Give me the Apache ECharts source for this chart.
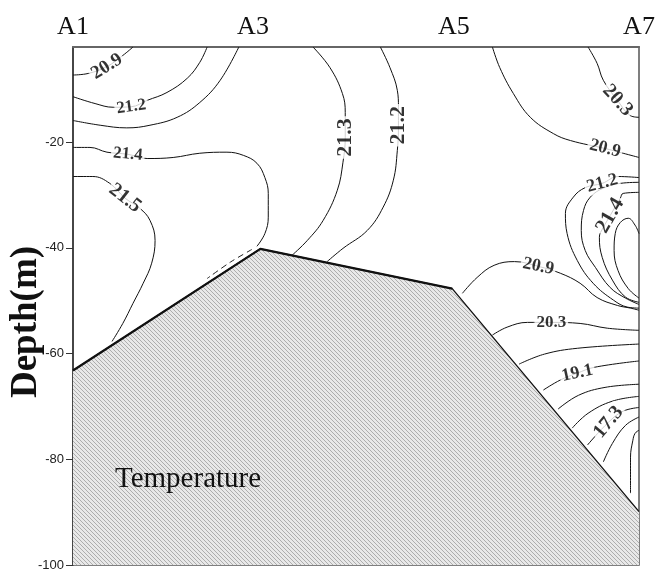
<!DOCTYPE html>
<html>
<head>
<meta charset="utf-8">
<script src="https://cdn.jsdelivr.net/npm/echarts@6/dist/echarts.min.js"></script>
<style>html,body{margin:0;padding:0;background:#fff}#chart{width:657px;height:571px}</style>
</head>
<body>
<div id="chart"></div>
<script>
// ---- data ----
const stationNames = ['A1', 'A3', 'A5', 'A7'];
const stationPos = [0, 31.8, 67.3, 100];
const depthTicks = [-20, -40, -60, -80, -100];
const seabed = [[0, -63.2], [33.1, -40.2], [67.0, -47.7], [100, -89.9]];

const c209_top = [[0,-7.3],[2.7,-7.0],[6.0,-5.7],[8.8,-3.6],[10.6,-2.0]];
const c212_left = [[0,-11.4],[3.9,-12.7],[7.1,-13.4],[10.3,-13.3],[13.1,-12.1],[16.6,-10.6],[20.2,-7.9],[22.4,-4.9],[23.7,-2.0]];
const c213_left = [[0,-15.9],[4.8,-16.8],[9.5,-17.3],[13.6,-16.8],[18.4,-15.3],[22.4,-12.5],[26.0,-8.3],[29.3,-2.0]];
const c214_left = [[0,-21.0],[3.0,-21.0],[6.0,-21.9],[9.7,-22.3],[13.1,-23.1],[17.7,-22.9],[22.4,-22.1],[27.2,-21.9],[30.1,-22.5],[32.5,-24.0],[33.9,-26.7],[34.5,-29.7],[34.5,-34.2],[33.9,-37.3],[32.5,-39.7]];
const c214_hidden = [[31.6,-40.3],[27.8,-42.7],[23.7,-45.8]];
const c215_left = [[0,-26.5],[3.5,-26.5],[6.5,-27.8],[9.2,-30.6],[11.8,-32.5],[13.6,-34.8],[14.5,-38.6],[13.9,-42.9],[12.4,-46.7],[10.6,-50.5],[8.8,-54.3],[6.9,-57.7]];
const c213_mid = [[42.4,-2.0],[45.4,-5.9],[47.6,-10.8],[48.1,-14.4],[48.1,-19.1],[47.7,-23.8],[46.7,-29.1],[44.2,-34.8],[41.4,-38.6],[38.7,-41.4]];
const c212_mid = [[54.3,-2.0],[56.0,-5.9],[57.3,-10.2],[57.5,-13.4],[57.5,-16.8],[57.3,-21.6],[56.6,-27.2],[54.8,-32.3],[52.0,-36.7],[47.7,-40.1],[44.9,-42.6]];
const c209_right = [[74.1,-2.0],[75.4,-5.9],[77.8,-10.8],[80.8,-15.3],[84.9,-18.4],[87.9,-19.7],[94.0,-21.2],[97.2,-22.1],[100,-22.9]];
const c203_right = [[91.0,-2.0],[92.6,-5.1],[93.7,-8.3],[96.2,-12.1],[98.5,-15.0],[100,-15.3]];
const c212_loop = [[100,-26.7],[96.3,-26.5],[93.5,-27.8],[90.5,-28.6],[88.4,-30.4],[87.0,-33.5],[87.3,-37.3],[89.1,-42.4],[91.9,-46.7],[95.5,-49.9],[97.9,-51.2],[100,-51.4]];
const c213_loop = [[100,-27.6],[96.7,-27.8],[93.7,-28.7],[91.4,-30.4],[90.2,-32.9],[89.8,-36.7],[90.5,-40.5],[92.3,-43.7],[94.9,-47.5],[97.6,-49.5],[100,-50.7]];
const c214_loop = [[100,-29.5],[97.2,-29.7],[96.7,-30.6],[94.9,-33.9],[93.2,-37.1],[93.0,-38.0],[93.5,-41.8],[95.3,-46.1],[97.6,-49.3],[100,-50.3]];
const c215_loop = [[100,-37.3],[99.3,-35.7],[98.1,-34.4],[96.7,-35.2],[95.8,-37.3],[95.6,-40.5],[96.3,-44.3],[98.1,-47.7],[100,-49.5]];
const c209_low = [[68.8,-48.6],[71.4,-45.6],[74.4,-43.3],[78.0,-42.6],[82.2,-43.5],[86.1,-44.8],[89.6,-46.7],[92.6,-49.4],[96.2,-50.9],[98.5,-51.4],[100,-51.8]];
const c203_low = [[74.1,-56.5],[76.7,-55.0],[80.3,-54.1],[84.5,-54.1],[89.6,-54.3],[94.4,-55.2],[100,-55.6]];
const c197 = [[78.8,-62.0],[83.3,-60.1],[89.1,-59.0],[100,-58.2]];
const c191 = [[83.1,-66.9],[86.1,-65.0],[89.1,-63.7],[92.1,-62.6],[100,-61.4]];
const c185 = [[85.7,-70.5],[89.3,-67.9],[94.0,-66.4],[100,-65.8]];
const c179 = [[88.2,-74.1],[91.0,-71.3],[95.3,-69.0],[100,-68.1]];
const c173 = [[90.9,-77.3],[94.6,-73.0],[97.2,-70.9],[100,-70.2]];
const c167 = [[93.7,-80.5],[95.3,-77.0],[97.6,-73.6],[100,-72.0]];
const c161 = [[100,-74.5],[99.3,-75.1],[98.9,-76.5],[98.5,-79.6],[98.5,-86.4]];

const contourLines = [c209_top, c212_left, c213_left, c214_left, c215_left, c213_mid, c212_mid,
  c209_right, c203_right, c212_loop, c213_loop, c214_loop, c215_loop, c209_low, c203_low,
  c197, c191, c185, c179, c173, c167, c161];

const contourLabels = [
  [6.0, -5.7, '20.9'], [10.3, -13.3, '21.2'], [9.7, -22.3, '21.4'], [9.2, -30.6, '21.5'],
  [48.1, -19.1, '21.3'], [57.5, -16.8, '21.2'], [94.0, -21.2, '20.9'], [96.2, -12.1, '20.3'],
  [93.5, -27.8, '21.2'], [94.9, -33.9, '21.4'], [82.2, -43.5, '20.9'], [84.5, -54.1, '20.3'],
  [89.1, -63.7, '19.1'], [94.6, -73.0, '17.3']
];
const labelAngles = [32, 8, -5, -38, 90, 90, -14, -48, 15, 60, -12, 0, 12, 50];

// ---- chart ----
function hatch() {
  const c = document.createElement('canvas');
  c.width = 4; c.height = 4;
  const g = c.getContext('2d');
  g.fillStyle = '#e8e8e8'; g.fillRect(0, 0, 4, 4);
  g.strokeStyle = '#adadad'; g.lineWidth = 1;
  g.beginPath();
  g.moveTo(-1, -1); g.lineTo(5, 5);
  g.moveTo(-1, 3); g.lineTo(1, 5);
  g.moveTo(3, -1); g.lineTo(5, 1);
  g.stroke();
  return c;
}

const series = [];
contourLines.forEach(function (pts) {
  series.push({
    type: 'line', data: pts, smooth: 0.4, symbol: 'none', silent: true, z: 2,
    lineStyle: { color: '#111', width: 1 }
  });
});
series.push({
  type: 'line', data: c214_hidden, smooth: 0.3, symbol: 'none', silent: true, z: 2,
  lineStyle: { color: '#222', width: 1, type: [6, 4] }
});
series.push({
  type: 'line', data: seabed, symbol: 'none', silent: true, z: 3,
  lineStyle: { color: '#111', width: 1.3 },
  areaStyle: { color: { image: hatch(), repeat: 'repeat' }, opacity: 1, origin: 'start' }
});
series.push({
  type: 'line', data: seabed.slice(0, 3), symbol: 'none', silent: true, z: 4,
  lineStyle: { color: '#111', width: 2.2 }
});
series.push({
  type: 'scatter', symbolSize: 1, silent: true, z: 5,
  itemStyle: { color: 'rgba(0,0,0,0)' },
  data: contourLabels.map(function (l, i) {
    const a = labelAngles[i];
    return {
      value: [l[0], l[1]], name: l[2],
      label: { rotate: a, fontSize: Math.round(16.5 + 5 * Math.abs(Math.sin(a * Math.PI / 180))) }
    };
  }),
  label: {
    show: true, position: 'inside', formatter: '{b}', color: '#000',
    fontFamily: 'Liberation Serif', fontWeight: 'bold',
    backgroundColor: '#fff', padding: [0, 2]
  },
  labelLayout: { hideOverlap: false }
});

const chart = echarts.init(document.getElementById('chart'), null, { renderer: 'canvas' });
chart.setOption({
  animation: false,
  backgroundColor: '#fff',
  title: {
    text: 'Temperature', left: 110, top: 460,
    textStyle: { fontFamily: 'Liberation Serif', fontSize: 29, fontWeight: 'normal', color: '#111' }
  },
  grid: {
    left: 73, top: 47, width: 566, height: 518, containLabel: false, outerBoundsMode: 'none',
    show: true, borderColor: '#555', borderWidth: 1.5, backgroundColor: 'transparent'
  },
  xAxis: {
    type: 'value', position: 'top', min: 0, max: 100,
    axisLine: { show: true, lineStyle: { color: '#666', width: 2 } },
    axisTick: { show: false },
    splitLine: { show: false },
    axisLabel: {
      customValues: stationPos, margin: 7,
      fontFamily: 'Liberation Serif', fontSize: 26, color: '#111',
      formatter: function (v) {
        let best = 0;
        stationPos.forEach(function (p, i) { if (Math.abs(p - v) < Math.abs(stationPos[best] - v)) best = i; });
        return stationNames[best];
      }
    }
  },
  yAxis: {
    type: 'value', min: -100, max: -2,
    name: 'Depth(m)', nameLocation: 'middle', nameGap: 28, nameRotate: 90, nameMoveOverlap: false,
    nameTextStyle: { fontFamily: 'Liberation Serif', fontWeight: 'bold', fontSize: 37, color: '#111', padding: [0, 32, 0, 0] },
    axisLine: { show: true, lineStyle: { color: '#333', width: 1.5 } },
    axisTick: { show: true, customValues: depthTicks, length: 7, lineStyle: { color: '#333' } },
    splitLine: { show: false },
    axisLabel: { customValues: depthTicks, margin: 9, fontFamily: 'Liberation Sans', fontSize: 13, color: '#222' }
  },
  series: series
});
</script>
</body>
</html>
